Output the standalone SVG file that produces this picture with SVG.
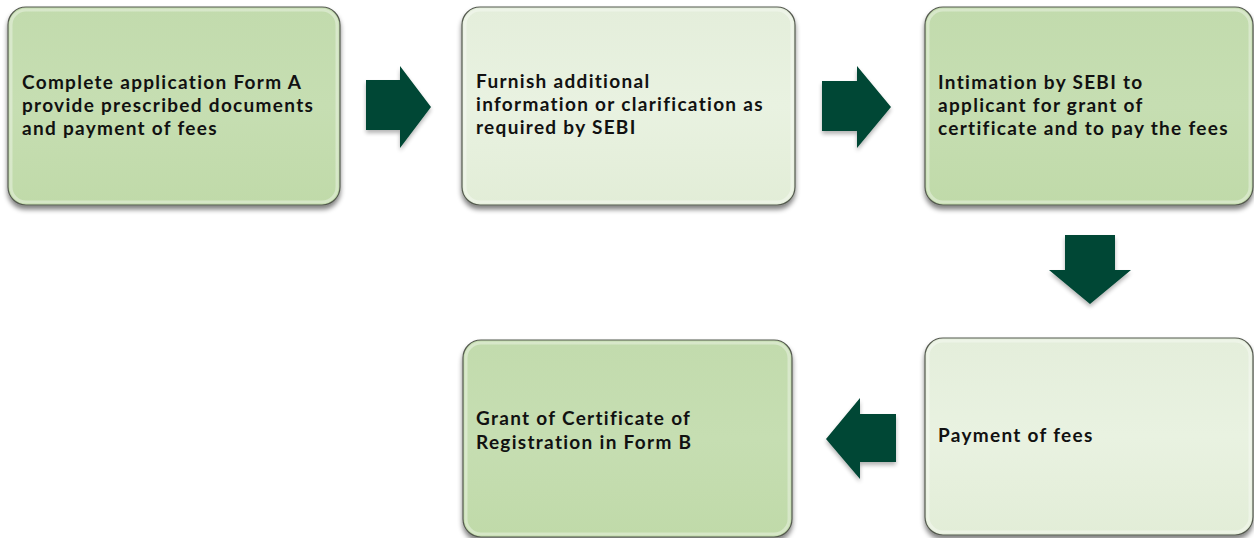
<svg xmlns="http://www.w3.org/2000/svg" width="1254" height="538" viewBox="0 0 1254 538">
  <defs>
    <linearGradient id="gMid" x1="0" y1="0" x2="0" y2="1">
      <stop offset="0" stop-color="#c2dbad"/>
      <stop offset="0.5" stop-color="#c6deb2"/>
      <stop offset="1" stop-color="#c0daa9"/>
    </linearGradient>
    <linearGradient id="gLight" x1="0" y1="0" x2="0" y2="1">
      <stop offset="0" stop-color="#e4eedb"/>
      <stop offset="0.5" stop-color="#e9f2e1"/>
      <stop offset="1" stop-color="#e2edd7"/>
    </linearGradient>
    <filter id="shadow" x="-10%" y="-10%" width="120%" height="130%">
      <feGaussianBlur in="SourceAlpha" stdDeviation="2.5"/>
      <feOffset dx="0" dy="4" result="b"/>
      <feComponentTransfer><feFuncA type="linear" slope="0.5"/></feComponentTransfer>
      <feMerge><feMergeNode/><feMergeNode in="SourceGraphic"/></feMerge>
    </filter>
    <filter id="ashadow" x="-20%" y="-20%" width="140%" height="150%">
      <feGaussianBlur in="SourceAlpha" stdDeviation="2"/>
      <feOffset dx="0" dy="3"/>
      <feComponentTransfer><feFuncA type="linear" slope="0.3"/></feComponentTransfer>
      <feMerge><feMergeNode/><feMergeNode in="SourceGraphic"/></feMerge>
    </filter>
  </defs>
  <style>
    .box { stroke: #555a50; stroke-width: 1.2; filter: url(#shadow); }
    .mid { fill: url(#gMid); }
    .light { fill: url(#gLight); }
    .inner { fill: none; stroke: #ffffff; stroke-opacity: 0.35; stroke-width: 3; }
    .lbl { font-family: Lato, "Open Sans", sans-serif; font-weight: 700; font-size: 19px; letter-spacing: 1.3px; font-variant-ligatures: none; fill: #111111; }
    .arrow { fill: #064634; filter: url(#ashadow); }
  </style>

  <g id="connectors">
    <polygon class="arrow" points="366,80 400,80 400,66 431,107 400,148 400,130 366,130"/>
    <polygon class="arrow" points="822,81 857,81 857,66 891,107 857,148 857,131 822,131"/>
    <polygon class="arrow" points="1065,235 1115,235 1115,270 1131,270 1090,304 1049,270 1065,270"/>
    <polygon class="arrow" points="896,414 860,414 860,398 826,439 860,479 860,462 896,462"/>
  </g>

  <g id="node-apply">
    <rect class="box mid" x="8" y="7" width="332" height="198" rx="18"/>
    <rect class="inner" x="11" y="10" width="326" height="192" rx="15"/>
    <text class="lbl" x="22" y="89">Complete application Form A</text>
    <text class="lbl" x="22" y="112">provide prescribed documents</text>
    <text class="lbl" x="22" y="135">and payment of fees</text>
  </g>

  <g id="node-furnish">
    <rect class="box light" x="462" y="7" width="333" height="198" rx="18"/>
    <rect class="inner" x="465" y="10" width="327" height="192" rx="15"/>
    <text class="lbl" x="476" y="88">Furnish additional</text>
    <text class="lbl" x="476" y="111">information or clarification as</text>
    <text class="lbl" x="476" y="134">required by SEBI</text>
  </g>

  <g id="node-intimation">
    <rect class="box mid" x="925" y="7" width="328" height="198" rx="18"/>
    <rect class="inner" x="928" y="10" width="322" height="192" rx="15"/>
    <text class="lbl" x="938" y="89">Intimation by SEBI to</text>
    <text class="lbl" x="938" y="112">applicant for grant of</text>
    <text class="lbl" x="938" y="135">certificate and to pay the fees</text>
  </g>

  <g id="node-payment">
    <rect class="box light" x="925" y="338" width="328" height="197" rx="18"/>
    <rect class="inner" x="928" y="341" width="322" height="191" rx="15"/>
    <text class="lbl" x="938" y="442">Payment of fees</text>
  </g>

  <g id="node-grant">
    <rect class="box mid" x="463" y="340" width="329" height="197" rx="18"/>
    <rect class="inner" x="466" y="343" width="323" height="191" rx="15"/>
    <text class="lbl" x="476" y="425">Grant of Certificate of</text>
    <text class="lbl" x="476" y="449">Registration in Form B</text>
  </g>
</svg>
